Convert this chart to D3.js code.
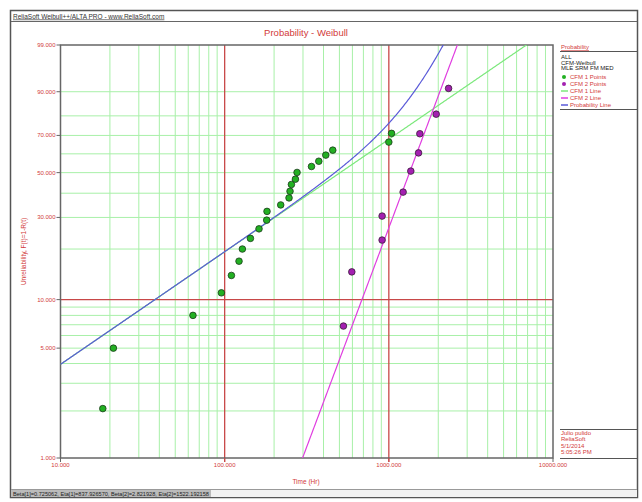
<!DOCTYPE html>
<html>
<head>
<meta charset="utf-8">
<script src="https://cdn.jsdelivr.net/npm/d3@7"></script>
<style>
  html, body { margin: 0; padding: 0; background: #fff; }
  svg { display: block; font-family: "Liberation Sans", Arial, sans-serif; }
</style>
</head>
<body>
<svg id="chart" width="642" height="502"></svg>
<script>
// ---- data ----
const cfm1Times = [18.1, 21.0, 64.1, 95.5, 109.9, 122.3, 128.2, 143.5, 161.9, 180.3, 181.1,
  219.5, 246.6, 250.1, 255.0, 269.8, 276.0, 337.9, 374.4, 413.0, 455.5, 1000, 1038.7];
const cfm1Unrel = [2.07, 5.0, 8.0, 11.0, 14.0, 17.0, 20.0, 23.0, 26.0, 29.0, 32.3,
  34.9, 37.9, 40.9, 44.1, 46.7, 50.1, 53.2, 56.0, 59.3, 62.0, 66.4, 71.1];
const cfm2Times = [529, 595, 910, 910, 1222, 1361, 1517, 1545, 1943, 2312];
const cfm2Unrel = [6.87, 14.7, 22.5, 30.5, 40.5, 50.8, 60.5, 70.9, 80.8, 91.1];
const beta1 = 0.725062, eta1 = 837.926570;
const beta2 = 2.821928, eta2 = 1522.192158;
const yTickValues = [1, 5, 10, 30, 50, 70, 90, 99];
const xTickValues = [10, 100, 1000, 10000];
const legendHeader = ["ALL", "CFM-Weibull", "MLE SRM FM MED"];
const legendItems = ["CFM 1 Points", "CFM 2 Points", "CFM 1 Line", "CFM 2 Line", "Probability Line"];
const infoLines = ["Julio pulido", "ReliaSoft", "5/1/2014", "5:05:26 PM"];

// ---- geometry ----
const L = 60.5, R = 553, T = 45, B = 458;
const red = "#d23a3a";
const svg = d3.select("#chart");

const wb = F => Math.log(-Math.log(1 - F / 100));
const x = d3.scaleLog().domain([10, 10000]).range([L, R]);
const yW = d3.scaleLinear().domain([wb(1), wb(99)]).range([B, T]);
const y = F => yW(wb(F));

// ---- outer window frame ----
svg.append("rect").attr("x", 10.5).attr("y", 10.5).attr("width", 627).attr("height", 487)
  .attr("fill", "#fff").attr("stroke", "#555").attr("stroke-width", 1.5);
svg.append("line").attr("x1", 11).attr("x2", 637).attr("y1", 21.5).attr("y2", 21.5)
  .attr("stroke", "#666");
svg.append("text").attr("x", 13).attr("y", 18.5).attr("font-size", 6.5).attr("fill", "#333")
  .attr("text-decoration", "underline").text("ReliaSoft Weibull++/ALTA PRO - www.ReliaSoft.com");
svg.append("rect").attr("x", 11).attr("y", 489).attr("width", 626).attr("height", 8)
  .attr("fill", "#f2f2f2");
svg.append("line").attr("x1", 11).attr("x2", 637).attr("y1", 489.5).attr("y2", 489.5)
  .attr("stroke", "#999");
svg.append("rect").attr("x", 11).attr("y", 490).attr("width", 200).attr("height", 7)
  .attr("fill", "#bbb");
svg.append("text").attr("x", 13).attr("y", 495.8).attr("font-size", 5.6).attr("fill", "#222")
  .text(`Beta[1]=${beta1}, Eta[1]=${eta1.toFixed(6)}, Beta[2]=${beta2}, Eta[2]=${eta2.toFixed(6)}`);

// ---- title ----
svg.append("text").attr("x", 306).attr("y", 36).attr("text-anchor", "middle")
  .attr("font-size", 9.5).attr("fill", red).text("Probability - Weibull");

// ---- grid ----
const grid = svg.append("g");
const xMinor = [];
[10, 100, 1000].forEach(d => { for (let k = 2; k <= 9; k++) xMinor.push(d * k); });
grid.selectAll("line.vx").data(xMinor).join("line")
  .attr("x1", d => x(d)).attr("x2", d => x(d)).attr("y1", T).attr("y2", B)
  .attr("stroke", "#a8f0a8").attr("stroke-width", 1);
const yMinor = [2, 3, 4, 5, 6, 7, 8, 9, 20, 30, 40, 50, 60, 70, 80, 90];
grid.selectAll("line.hy").data(yMinor).join("line")
  .attr("x1", L).attr("x2", R).attr("y1", d => y(d)).attr("y2", d => y(d))
  .attr("stroke", "#a8f0a8").attr("stroke-width", 1);
// major lines
grid.selectAll("line.mx").data([100, 1000]).join("line")
  .attr("x1", d => x(d)).attr("x2", d => x(d)).attr("y1", T).attr("y2", B + 4)
  .attr("stroke", "#c84848").attr("stroke-width", 1.3);
grid.append("line").attr("x1", L).attr("x2", R).attr("y1", y(10)).attr("y2", y(10))
  .attr("stroke", "#c84848").attr("stroke-width", 1.3);

// ---- plot border ----
svg.append("rect").attr("x", L).attr("y", T).attr("width", R - L).attr("height", B - T)
  .attr("fill", "none").attr("stroke", "#666").attr("stroke-width", 1.5);

// ---- axes ----
const yAxis = svg.append("g");
yAxis.selectAll("line").data(yTickValues).join("line")
  .attr("x1", L - 4).attr("x2", L).attr("y1", d => y(d)).attr("y2", d => y(d))
  .attr("stroke", "#666");
yAxis.selectAll("text").data(yTickValues).join("text")
  .attr("x", L - 5).attr("y", d => y(d) + 2).attr("text-anchor", "end")
  .attr("font-size", 6).attr("fill", red).text(d => d3.format(".3f")(d));
svg.append("text").attr("transform", `translate(26,${(T + B) / 2}) rotate(-90)`)
  .attr("text-anchor", "middle").attr("font-size", 6.5).attr("fill", red)
  .text("Unreliability, F(t)=1-R(t)");

const xAxis = svg.append("g");
xAxis.selectAll("line").data(xTickValues).join("line")
  .attr("x1", d => x(d)).attr("x2", d => x(d)).attr("y1", B).attr("y2", B + 4)
  .attr("stroke", d => (d === 100 || d === 1000) ? "#c84848" : "#666");
xAxis.selectAll("text").data(xTickValues).join("text")
  .attr("x", d => x(d)).attr("y", B + 9).attr("text-anchor", "middle")
  .attr("font-size", 6).attr("fill", red).text(d => d3.format(".3f")(d));
svg.append("text").attr("x", 306).attr("y", 484).attr("text-anchor", "middle")
  .attr("font-size", 6.5).attr("fill", red).text("Time (Hr)");

// ---- fitted lines ----
const plotClip = svg.append("clipPath").attr("id", "plotclip").append("rect")
  .attr("x", L).attr("y", T).attr("width", R - L).attr("height", B - T);
const lines = svg.append("g").attr("clip-path", "url(#plotclip)");
const tGrid = d3.range(0, 3.0001, 0.005).map(e => 10 * Math.pow(10, e));
const H1 = t => Math.pow(t / eta1, beta1);
const H2 = t => Math.pow(t / eta2, beta2);
const line = d3.line().x(d => x(d.t)).y(d => yW(Math.log(d.h)));
const curve = H => tGrid.map(t => ({ t, h: H(t) })).filter(d => yW(Math.log(d.h)) > T - 40);

lines.append("path").attr("d", line(curve(H1))).attr("fill", "none")
  .attr("stroke", "#7ce87c").attr("stroke-width", 1.2);
lines.append("path").attr("d", line(curve(H2))).attr("fill", "none")
  .attr("stroke", "#e03ee0").attr("stroke-width", 1.2);
lines.append("path").attr("d", line(curve(t => H1(t) + H2(t)))).attr("fill", "none")
  .attr("stroke", "#5a5ad8").attr("stroke-width", 1.2);

// ---- points ----
const pts = svg.append("g");
pts.selectAll("circle.c1").data(cfm1Times.map((t, i) => [t, cfm1Unrel[i]])).join("circle")
  .attr("cx", d => x(d[0])).attr("cy", d => y(d[1])).attr("r", 3.3)
  .attr("fill", "#22b022").attr("stroke", "#1c3a1c").attr("stroke-width", 0.8);
pts.selectAll("circle.c2").data(cfm2Times.map((t, i) => [t, cfm2Unrel[i]])).join("circle")
  .attr("cx", d => x(d[0])).attr("cy", d => y(d[1])).attr("r", 3.3)
  .attr("fill", "#a320b0").attr("stroke", "#3a1c3a").attr("stroke-width", 0.8);

// ---- legend ----
const lg = svg.append("g");
const lx = 561;
lg.append("text").attr("x", lx).attr("y", 49).attr("font-size", 6).attr("fill", red)
  .attr("text-decoration", "underline").text("Probability");
lg.append("line").attr("x1", lx - 1).attr("x2", 638).attr("y1", 51.5).attr("y2", 51.5)
  .attr("stroke", "#555").attr("stroke-width", 1.2);
lg.selectAll("text.h").data(legendHeader).join("text")
  .attr("x", lx).attr("y", (d, i) => 59 + i * 5.5).attr("font-size", 6).attr("fill", "#222")
  .text(d => d);
const items = lg.selectAll("g.item").data(legendItems).join("g")
  .attr("transform", (d, i) => `translate(${lx},${79 + i * 7})`);
items.append("text").attr("x", 9).attr("y", 0).attr("font-size", 6).attr("fill", red)
  .text(d => d);
items.filter((d, i) => i < 2).append("circle").attr("cx", 3).attr("cy", -2).attr("r", 2)
  .attr("fill", (d, i) => i === 0 ? "#22b022" : "#a320b0");
items.filter((d, i) => i >= 2).append("line").attr("x1", 0).attr("x2", 7)
  .attr("y1", -2).attr("y2", -2).attr("stroke-width", 1.5)
  .attr("stroke", (d, i) => ["#7ce87c", "#e03ee0", "#5a5ad8"][i]);
lg.append("line").attr("x1", lx - 1).attr("x2", 638).attr("y1", 109.5).attr("y2", 109.5)
  .attr("stroke", "#555").attr("stroke-width", 1.2);

// ---- info box ----
const ib = svg.append("g");
ib.append("line").attr("x1", lx - 1).attr("x2", 638).attr("y1", 429.5).attr("y2", 429.5)
  .attr("stroke", "#555").attr("stroke-width", 1.2);
ib.selectAll("text").data(infoLines).join("text")
  .attr("x", lx).attr("y", (d, i) => 435 + i * 6.3).attr("font-size", 6).attr("fill", red)
  .text(d => d);
ib.append("line").attr("x1", lx - 1).attr("x2", 638).attr("y1", 458.5).attr("y2", 458.5)
  .attr("stroke", "#555").attr("stroke-width", 1.2);
</script>
</body>
</html>
